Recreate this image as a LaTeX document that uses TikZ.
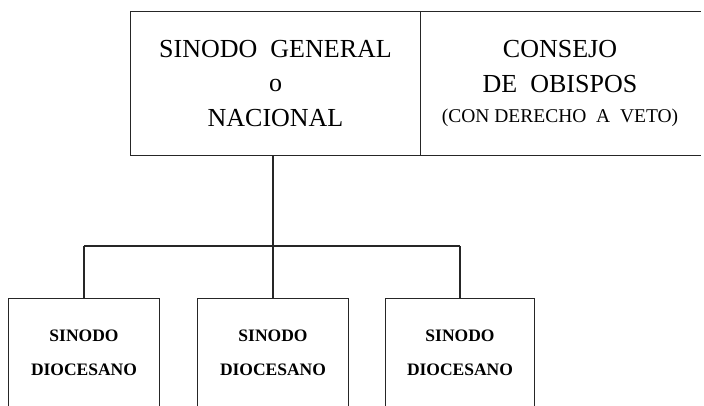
\documentclass[tikz,border=0pt]{standalone}
\usepackage{fontspec}
\setmainfont{Liberation Serif}
\usepackage{tikz}

\begin{document}
\begin{tikzpicture}[x=1pt,y=-1pt,line width=1.1pt,draw=black!85]
		\tikzstyle{topbox}=[inner sep=0pt,minimum height=143pt,align=center,font=\fontsize{26}{34.5}\selectfont]
		\tikzstyle{diobox}=[inner sep=0pt,minimum width=150pt,minimum height=107pt,align=center,font=\fontsize{17.5}{34}\selectfont\bfseries]
		\tikzstyle{side}=[line width=1.4pt]
		\useasboundingbox (0,0) rectangle (704,406);

		% upper level
		\node[topbox,minimum width=289pt] (gen) at (275.5,83.5) {SINODO\ \ GENERAL\\o\\NACIONAL};
		\node[topbox,minimum width=280pt] (obis) at (560,83.5) {CONSEJO\\DE\ \ OBISPOS\\[-4pt]{\fontsize{19.5}{24}\selectfont (CON\ DERECHO\ \ A\ \ VETO)}};
		\draw (gen.north west) -- (obis.north east);
		\draw (gen.south west) -- (obis.south east);
		\draw[line width=0.8pt] (gen.north west) -- (gen.south west);
		\draw (gen.north east) -- (gen.south east);

		% lower level
		\node[diobox] (dio1) at (84,352.5) {SINODO\\DIOCESANO};
		\node[diobox] (dio2) at (273,352.5) {SINODO\\DIOCESANO};
		\node[diobox,minimum width=148pt] (dio3) at (460,352.5) {SINODO\\DIOCESANO};
		\foreach \d in {dio1,dio2,dio3}{
			\draw (\d.north west) -- (\d.north east);
			\draw[side] (\d.north west) -- (\d.south west);
			\draw[side] (\d.north east) -- (\d.south east);
		}

		% connectors
		\coordinate (fork) at (273,246);
		\draw (dio2.north |- gen.south) -- (fork);
		\draw (dio1.north |- fork) -- (dio3.north |- fork);
		\draw (dio1.north |- fork) -- (dio1.north);
		\draw (fork) -- (dio2.north);
		\draw (dio3.north |- fork) -- (dio3.north);
\end{tikzpicture}
\end{document}
